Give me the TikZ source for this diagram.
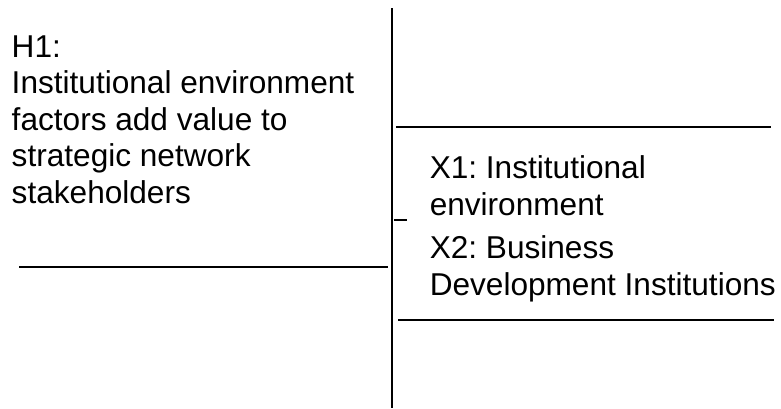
\documentclass[tikz,border=0pt]{standalone}
\usepackage{fontspec}
\setmainfont{Liberation Sans}
\frenchspacing
\begin{document}
\begin{tikzpicture}[x=1pt, y=-1pt, line width=1.5pt,
  txt/.style={anchor=base west, align=left, inner sep=0pt, font=\fontsize{31.6}{36.5}\selectfont}]
\useasboundingbox (0,0) rectangle (781,408);

\draw (392, 8) -- (392, 408);

\draw (19, 267) -- (388, 267);
\draw (396, 127) -- (771, 127);
\draw (398, 320) -- (774, 320);
\draw (394, 220) -- (407, 220);

% base anchor sits on the last line
\node[txt] (h1) at (11, 203) {H1:\\Institutional environment\\factors add value to\\strategic network\\stakeholders};
\node[txt] (xone) at (429, 215) {X1: Institutional\\environment};
\node[txt] (xtwo) at (429, 295) {X2: Business\\Development Institutions};

\end{tikzpicture}
\end{document}
